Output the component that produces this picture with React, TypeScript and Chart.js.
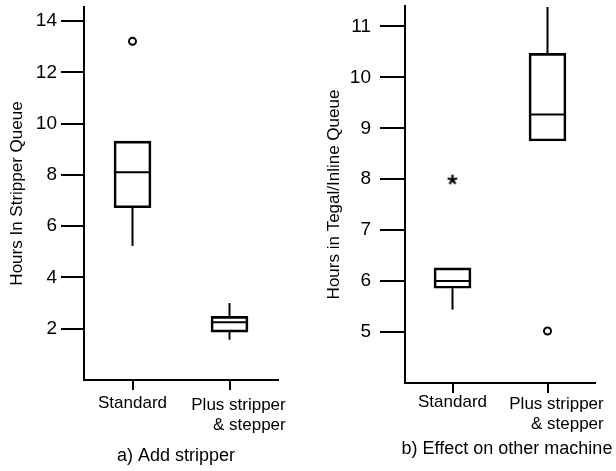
import React, { useEffect, useRef } from 'react';
import { Chart, registerables } from 'chart.js';

Chart.register(...registerables);
Chart.defaults.font.family = '"Liberation Sans", Arial, Helvetica, sans-serif';
Chart.defaults.color = '#000';

// ---------- shared ----------
const CATEGORIES: (string | string[])[] = ['Standard', ['Plus stripper', '& stepper']];

// ---------- panel a) Add stripper ----------
const A_TITLE = 'Hours In Stripper Queue';
const A_CAPTION = 'a) Add stripper';
const A_TICKS = [2, 4, 6, 8, 10, 12, 14];
const A_MIN = [5.23, 1.57];
const A_Q1 = [6.72, 1.87];
const A_MEDIAN = [8.1, 2.25];
const A_Q3 = [9.32, 2.48];
const A_MAX = [9.32, 3.0];
const A_OUTLIERS = [13.21, null];
const A_OUTLIER_STYLE = ['circle', 'circle'];

// ---------- panel b) Effect on other machine ----------
const B_TITLE = 'Hours in Tegal/Inline Queue';
const B_CAPTION = 'b) Effect on other machine';
const B_TICKS = [5, 6, 7, 8, 9, 10, 11];
const B_MIN = [5.44, 8.75];
const B_Q1 = [5.86, 8.75];
const B_MEDIAN = [6.0, 9.27];
const B_Q3 = [6.26, 10.47];
const B_MAX = [6.26, 11.38];
const B_OUTLIERS = [7.99, 5.02];
const B_OUTLIER_STYLE = ['asterisk', 'circle'];

// 5-spoke asterisk point style
function makeAsterisk(): HTMLCanvasElement {
  const c = document.createElement('canvas');
  c.width = 12;
  c.height = 12;
  const g = c.getContext('2d')!;
  g.strokeStyle = '#000';
  g.lineWidth = 2.2;
  g.lineCap = 'butt';
  const cx = 6, cy = 6, r = 5;
  for (let k = 0; k < 5; k++) {
    const a = -Math.PI / 2 + (k * 2 * Math.PI) / 5;
    g.beginPath();
    g.moveTo(cx, cy);
    g.lineTo(cx + r * Math.cos(a), cy + r * Math.sin(a));
    g.stroke();
  }
  return c;
}

const boxExtras = {
  id: 'boxExtras',
  afterDatasetsDraw(chart: any, _args: any, opts: any) {
    const { ctx } = chart;
    const ys = chart.scales.y;
    const meta = chart.getDatasetMeta(0);
    ctx.save();
    ctx.strokeStyle = '#000';
    ctx.lineWidth = 2;
    meta.data.forEach((bar: any, i: number) => {
      const { x, width } = bar.getProps(['x', 'width'], true);
      const line = (x1: number, y1: number, x2: number, y2: number) => {
        ctx.beginPath();
        ctx.moveTo(x1, y1);
        ctx.lineTo(x2, y2);
        ctx.stroke();
      };
      const ym = ys.getPixelForValue(opts.median[i]);
      line(x - width / 2, ym, x + width / 2, ym);
      if (opts.max[i] > opts.q3[i]) {
        line(x, ys.getPixelForValue(opts.q3[i]), x, ys.getPixelForValue(opts.max[i]));
      }
      if (opts.min[i] < opts.q1[i]) {
        line(x, ys.getPixelForValue(opts.q1[i]), x, ys.getPixelForValue(opts.min[i]));
      }
    });
    ctx.restore();
  },
};

const textExtras = {
  id: 'textExtras',
  afterDraw(chart: any, _args: any, opts: any) {
    const { ctx, chartArea } = chart;
    const xs = chart.scales.x;
    ctx.save();
    ctx.fillStyle = '#000';
    ctx.textBaseline = 'middle';
    ctx.font = '17px "Liberation Sans", Arial, sans-serif';
    (chart.data.labels as any[]).forEach((lab, i) => {
      const cx = xs.getPixelForValue(i);
      if (Array.isArray(lab)) {
        const w = ctx.measureText(lab[0]).width;
        const right = cx + opts.shift + w / 2;
        ctx.textAlign = 'right';
        lab.forEach((ln: string, j: number) =>
          ctx.fillText(ln, right, chartArea.bottom + opts.labelDy + 2 + j * 20)
        );
      } else {
        ctx.textAlign = 'center';
        ctx.fillText(lab, cx, chartArea.bottom + opts.labelDy);
      }
    });
    ctx.font = '18px "Liberation Sans", Arial, sans-serif';
    ctx.textAlign = 'center';
    ctx.fillText(
      opts.caption,
      (chartArea.left + chartArea.right) / 2 + opts.captionDx,
      chartArea.bottom + opts.captionDy
    );
    ctx.restore();
  },
};

type PanelProps = {
  left: number;
  width: number;
  title: string;
  caption: string;
  ticks: number[];
  min: number[];
  q1: number[];
  median: number[];
  q3: number[];
  max: number[];
  outliers: (number | null)[];
  outlierStyle: string[];
  yMin: number;
  yMax: number;
  yWidth: number;
  xHeight: number;
  padTop: number;
  padRight: number;
  yTickLen: number;
  yTickPad: number;
  titlePad: number;
  labelDy: number;
  captionDy: number;
  captionDx: number;
};

function BoxPanel(p: PanelProps) {
  const ref = useRef<HTMLCanvasElement>(null);
  useEffect(() => {
    if (!ref.current) return;
    const asterisk = makeAsterisk();
    const styles = p.outlierStyle.map((s) => (s === 'asterisk' ? asterisk : s));
    const chart = new Chart(ref.current, {
      type: 'bar',
      data: {
        labels: CATEGORIES as any,
        datasets: [
          {
            type: 'bar',
            data: p.q1.map((v, i) => [v, p.q3[i]]) as any,
            backgroundColor: 'rgba(255,255,255,0)',
            borderColor: '#000',
            borderWidth: 2,
            borderSkipped: false,
            barThickness: 37,
          },
          {
            type: 'line',
            data: p.outliers as any,
            showLine: false,
            pointStyle: styles as any,
            pointRadius: 3.5,
            pointBorderWidth: 2,
            pointBorderColor: '#000',
            pointBackgroundColor: '#fff',
            borderColor: '#000',
          } as any,
        ],
      },
      options: {
        animation: false,
        responsive: true,
        maintainAspectRatio: false,
        layout: { padding: { top: p.padTop, right: p.padRight, bottom: 0, left: 0 } },
        plugins: {
          legend: { display: false },
          tooltip: { enabled: false },
          boxExtras: { min: p.min, q1: p.q1, median: p.median, q3: p.q3, max: p.max },
          textExtras: {
            caption: p.caption,
            labelDy: p.labelDy,
            captionDy: p.captionDy,
            captionDx: p.captionDx,
            shift: 9,
          },
        } as any,
        scales: {
          x: {
            offset: true,
            afterFit: (s: any) => {
              s.height = p.xHeight;
              s.paddingLeft = 0;
              s.paddingRight = 0;
            },
            grid: {
              offset: false,
              drawOnChartArea: false,
              drawTicks: true,
              tickLength: 10,
              color: '#000',
              lineWidth: 2,
            },
            border: { display: true, color: '#000', width: 2 },
            ticks: { display: false },
          },
          y: {
            min: p.yMin,
            max: p.yMax,
            afterBuildTicks: (s: any) => {
              s.ticks = p.ticks.map((v) => ({ value: v }));
            },
            afterFit: (s: any) => {
              s.width = p.yWidth;
              s.paddingTop = 0;
              s.paddingBottom = 0;
            },
            grid: {
              drawOnChartArea: false,
              drawTicks: true,
              tickLength: p.yTickLen,
              color: '#000',
              lineWidth: 2,
            },
            border: { display: true, color: '#000', width: 2 },
            ticks: { color: '#000', font: { size: 19 }, padding: p.yTickPad },
            title: {
              display: true,
              text: p.title,
              color: '#000',
              font: { size: 17 },
              padding: { top: p.titlePad, bottom: 0 },
            },
          },
        },
      },
      plugins: [boxExtras, textExtras],
    });
    return () => chart.destroy();
  }, []);
  return (
    <div style={{ position: 'absolute', left: p.left, top: 0, width: p.width, height: 471 }}>
      <canvas ref={ref} />
    </div>
  );
}

export default function App() {
  return (
    <div style={{ position: 'absolute', left: 0, top: 0, width: 616, height: 471, background: '#fff' }}>
      <BoxPanel
        left={0}
        width={300}
        title={A_TITLE}
        caption={A_CAPTION}
        ticks={A_TICKS}
        min={A_MIN}
        q1={A_Q1}
        median={A_MEDIAN}
        q3={A_Q3}
        max={A_MAX}
        outliers={A_OUTLIERS}
        outlierStyle={A_OUTLIER_STYLE}
        yMin={0}
        yMax={14.55}
        yWidth={84}
        xHeight={91}
        padTop={7}
        padRight={22}
        yTickLen={23}
        yTickPad={4}
        titlePad={7}
        labelDy={23}
        captionDy={76}
        captionDx={-5}
      />
      <BoxPanel
        left={300}
        width={316}
        title={B_TITLE}
        caption={B_CAPTION}
        ticks={B_TICKS}
        min={B_MIN}
        q1={B_Q1}
        median={B_MEDIAN}
        q3={B_Q3}
        max={B_MAX}
        outliers={B_OUTLIERS}
        outlierStyle={B_OUTLIER_STYLE}
        yMin={4}
        yMax={11.4}
        yWidth={105}
        xHeight={88}
        padTop={5}
        padRight={21}
        yTickLen={25}
        yTickPad={9}
        titlePad={24}
        labelDy={19}
        captionDy={66}
        captionDx={7}
      />
    </div>
  );
}
